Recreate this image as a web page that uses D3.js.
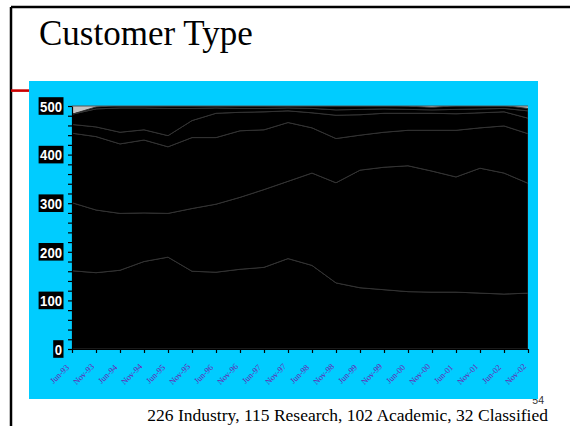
<!DOCTYPE html>
<html>
<head>
<meta charset="utf-8">
<script src="https://cdn.jsdelivr.net/npm/d3@7"></script>
<style>
  html, body { margin: 0; padding: 0; background: #fff; }
  svg { display: block; }
</style>
</head>
<body>
<svg id="chart" width="570" height="426"></svg>
<script>
// Reporting dates (every survey, June and November)
const months = ["Jun-93","Nov-93","Jun-94","Nov-94","Jun-95","Nov-95","Jun-96","Nov-96","Jun-97","Nov-97",
                "Jun-98","Nov-98","Jun-99","Nov-99","Jun-00","Nov-00","Jun-01","Nov-01","Jun-02","Nov-02"];

// Customers per type, stacked bottom to top
const research    = [161,157,162,180,189,160,158,164,168,186,172,136,126,122,118,117,117,115,113,115];
const industry    = [140,129,117,100, 90,129,140,148,160,159,190,206,242,252,259,249,237,257,249,226];
const academic    = [143,151,143,150,137,146,137,137,123,121, 93, 91, 72, 72, 73, 84, 96, 83, 97,102];
const classified  = [ 18, 20, 24, 21, 23, 35, 50, 38, 37, 24, 31, 48, 42, 39, 35, 35, 34, 31, 29, 32];
const other       = [ 21, 37, 50, 45, 56, 25, 11,  8,  7,  6,  9, 11, 11,  9,  8,  7,  9,  8,  7, 15];
const unspecified = [  0,  4,  6,  7,  7,  7,  7,  7,  7,  7,  7,  9,  8,  8,  7,  5,  8,  8,  6,  5];

const yLabelTicks = [0, 100, 200, 300, 400, 500];
const yMinorStep = 20;

const seriesKeys = ["research","industry","academic","classified","other","unspecified"];
const seriesValues = { research, industry, academic, classified, other, unspecified };
const rows = months.map((m, i) => {
  const r = { month: m };
  seriesKeys.forEach(k => { r[k] = seriesValues[k][i]; });
  return r;
});

const svg = d3.select("#chart");

// Slide frame
svg.append("line").attr("x1", 11).attr("y1", 7).attr("x2", 570).attr("y2", 7)
  .attr("stroke", "#000").attr("stroke-width", 2.5);
svg.append("line").attr("x1", 11).attr("y1", 7).attr("x2", 11).attr("y2", 426)
  .attr("stroke", "#000").attr("stroke-width", 2.5);
svg.append("rect").attr("x", 11).attr("y", 89.3).attr("width", 18).attr("height", 2.6)
  .attr("fill", "#cc0000");

// Title
svg.append("text")
  .attr("x", 39).attr("y", 45)
  .attr("font-family", "'Liberation Serif', 'Times New Roman', serif")
  .attr("font-size", 35)
  .attr("fill", "#000")
  .text("Customer Type");

// Page number (sits behind the chart panel)
svg.append("text")
  .attr("x", 544).attr("y", 403.5)
  .attr("text-anchor", "end")
  .attr("font-family", "'Liberation Sans', Arial, sans-serif")
  .attr("font-size", 10.5)
  .attr("fill", "#333")
  .text("54");

// Chart panel
svg.append("rect").attr("x", 29).attr("y", 81).attr("width", 509).attr("height", 318)
  .attr("fill", "#00ccff");

// Footnote
svg.append("text")
  .attr("x", 548).attr("y", 421)
  .attr("text-anchor", "end")
  .attr("font-family", "'Liberation Serif', 'Times New Roman', serif")
  .attr("font-size", 17.5)
  .attr("fill", "#000")
  .text("226 Industry, 115 Research, 102 Academic, 32 Classified");

// Plot scales
const plot = { left: 72, right: 528, top: 106, bottom: 349 };
const x = d3.scalePoint().domain(months).range([plot.left, plot.right]);
const y = d3.scaleLinear().domain([0, 500]).range([plot.bottom, plot.top]);

// Plot background
svg.append("rect")
  .attr("x", plot.left).attr("y", plot.top)
  .attr("width", plot.right - plot.left).attr("height", plot.bottom - plot.top)
  .attr("fill", "#c4c4c4");

svg.append("clipPath").attr("id", "plotClip")
  .append("rect")
  .attr("x", plot.left).attr("y", plot.top)
  .attr("width", plot.right - plot.left).attr("height", plot.bottom - plot.top);

// Stacked areas
const stacked = d3.stack().keys(seriesKeys)(rows);
const area = d3.area()
  .x(d => x(d.data.month))
  .y0(d => y(d[0]))
  .y1(d => y(d[1]));

svg.append("g").attr("clip-path", "url(#plotClip)")
  .selectAll("path")
  .data(stacked)
  .join("path")
  .attr("d", area)
  .attr("fill", "#000")
  .attr("stroke", "#333")
  .attr("stroke-width", 1)
  .attr("stroke-linejoin", "round");

// Plot top edge
svg.append("line")
  .attr("x1", plot.left).attr("x2", plot.right)
  .attr("y1", plot.top).attr("y2", plot.top)
  .attr("stroke", "#555").attr("stroke-width", 1);

// Y axis with minor ticks every 20
const yAxis = d3.axisLeft(y)
  .tickValues(d3.range(0, 501, yMinorStep))
  .tickSize(4)
  .tickSizeOuter(0)
  .tickFormat("");
const gy = svg.append("g").attr("transform", `translate(${plot.left},0)`).call(yAxis);
gy.selectAll("line, path").attr("stroke", "#000").attr("stroke-width", 1.2);

// Y labels: white bold digits on black boxes
const yLab = svg.append("g");
yLabelTicks.forEach(v => {
  const s = String(v);
  const tl = s.length * 7.3;
  const right = 62;
  yLab.append("rect")
    .attr("x", right - tl - 1.5).attr("y", y(v) - 8.8)
    .attr("width", tl + 3).attr("height", 17.6)
    .attr("fill", "#000");
  yLab.append("text")
    .attr("x", right - tl).attr("y", y(v) + 5.8)
    .attr("textLength", tl).attr("lengthAdjust", "spacingAndGlyphs")
    .attr("font-family", "'Liberation Sans', Arial, sans-serif")
    .attr("font-weight", "bold")
    .attr("font-size", 15.5)
    .attr("fill", "#fff")
    .text(s);
});

// X axis
const xAxis = d3.axisBottom(x).tickSize(4).tickSizeOuter(0).tickFormat("");
const gx = svg.append("g").attr("transform", `translate(0,${plot.bottom})`).call(xAxis);
gx.selectAll("line, path").attr("stroke", "#000").attr("stroke-width", 1.2);

// Rotated month labels
svg.append("g").selectAll("text")
  .data(months)
  .join("text")
  .attr("transform", d => `translate(${x(d) - 12.5},374) rotate(-45)`)
  .attr("text-anchor", "middle")
  .attr("dy", "0.35em")
  .attr("font-family", "'Liberation Serif', 'Times New Roman', serif")
  .attr("font-size", 8.5)
  .attr("fill", "#6a22b0")
  .text(d => d);
</script>
</body>
</html>
